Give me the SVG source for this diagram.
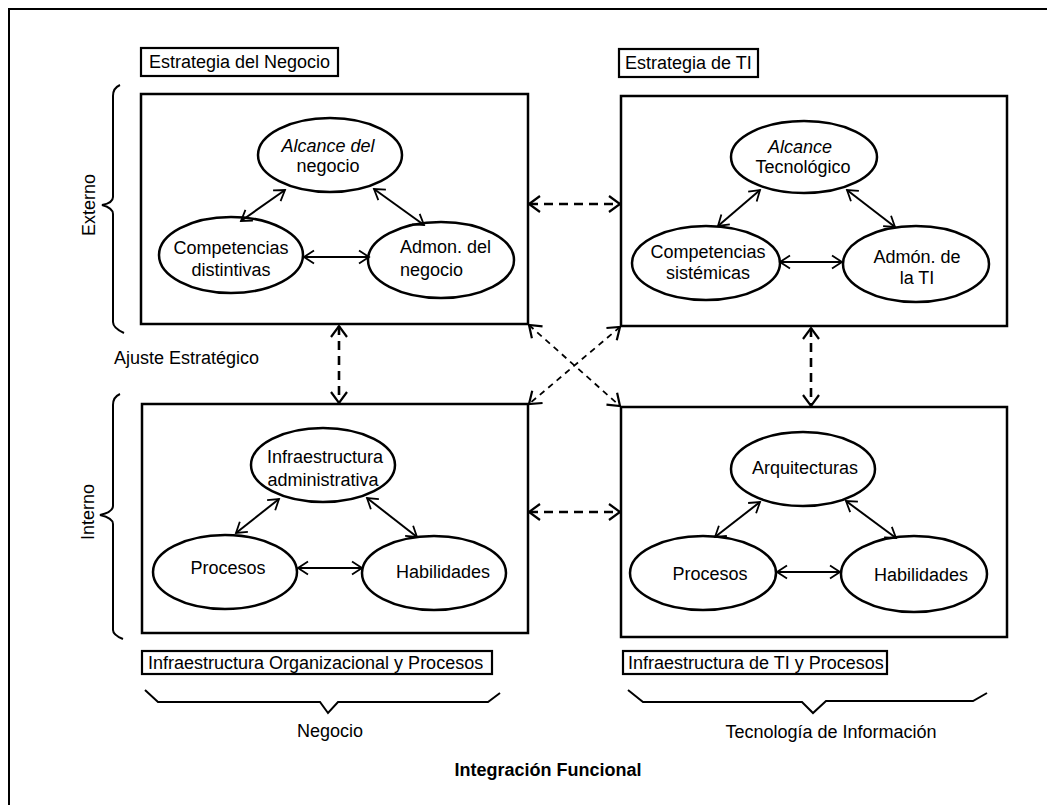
<svg xmlns="http://www.w3.org/2000/svg" width="1047" height="805" viewBox="0 0 1047 805">
<style>
text{font-family:"Liberation Sans",Arial,sans-serif;font-size:18px;fill:#000}
.it{font-style:italic}
.b{font-weight:bold;font-size:18px}
.box{fill:none;stroke:#000;stroke-width:2.5}
.lbl{fill:#fff;stroke:#000;stroke-width:2.2}
.el{fill:#fff;stroke:#000;stroke-width:2.5}
.sol{fill:none;stroke:#000;stroke-width:2;marker-start:url(#a);marker-end:url(#a)}
.dsh{fill:none;stroke:#000;stroke-width:2.6;stroke-dasharray:9 6;marker-start:url(#d);marker-end:url(#d)}
.dia{fill:none;stroke:#000;stroke-width:1.8;stroke-dasharray:6 5;marker-start:url(#d);marker-end:url(#d)}
.br{fill:none;stroke:#000;stroke-width:2}
</style>
<defs>
<marker id="a" markerUnits="userSpaceOnUse" markerWidth="14" markerHeight="16" refX="11" refY="8" orient="auto-start-reverse"><path d="M1,1.5 L11,8 L1,14.5" fill="none" stroke="#000" stroke-width="1.8" stroke-dasharray="none"/></marker>
<marker id="d" markerUnits="userSpaceOnUse" markerWidth="16" markerHeight="20" refX="12" refY="10" orient="auto-start-reverse"><path d="M1,2 L12,10 L1,18" fill="none" stroke="#000" stroke-width="2.2" stroke-dasharray="none"/></marker>
</defs>

<g id="frame">
<path d="M9,805 L9,9 L1047,9" fill="none" stroke="#000" stroke-width="2"/>
</g>

<g id="connectors">
<line class="dsh" x1="529" y1="204" x2="620" y2="204"/>
<line class="dsh" x1="529" y1="512" x2="620" y2="512"/>
<line class="dsh" x1="339" y1="326" x2="339" y2="403"/>
<line class="dsh" x1="811" y1="328" x2="811" y2="406"/>
<line class="dia" x1="529" y1="325" x2="620" y2="406"/>
<line class="dia" x1="620" y1="327" x2="529" y2="404"/>
</g>

<g id="estrategia-negocio">
<rect class="box" x="141" y="94" width="387" height="230"/>
<rect class="lbl" x="141" y="48" width="197" height="28"/>
<text x="149" y="68">Estrategia del Negocio</text>
<g id="n-alcance-negocio">
<ellipse class="el" cx="330" cy="155" rx="72" ry="37"/>
<text class="it" x="328" y="152" text-anchor="middle">Alcance del</text>
<text x="328" y="172" text-anchor="middle">negocio</text>
</g>
<g id="n-competencias-distintivas">
<ellipse class="el" cx="231" cy="255" rx="72" ry="38"/>
<text x="231" y="254" text-anchor="middle">Competencias</text>
<text x="231" y="276" text-anchor="middle">distintivas</text>
</g>
<g id="n-admon-negocio">
<ellipse class="el" cx="441" cy="260" rx="73" ry="38"/>
<text x="400" y="253">Admon. del</text>
<text x="400" y="276">negocio</text>
</g>
<g class="conn">
<line class="sol" x1="285" y1="190" x2="241" y2="221"/>
<line class="sol" x1="374" y1="189" x2="424" y2="225"/>
<line class="sol" x1="304" y1="257" x2="369" y2="257"/>
</g>
</g>

<g id="estrategia-ti">
<rect class="box" x="621" y="96" width="386" height="230"/>
<rect class="lbl" x="619" y="49" width="139" height="28"/>
<text x="625" y="69">Estrategia de TI</text>
<g id="n-alcance-tecnologico">
<ellipse class="el" cx="804" cy="157" rx="73" ry="36"/>
<text class="it" x="800" y="153" text-anchor="middle">Alcance</text>
<text x="803" y="173" text-anchor="middle">Tecnológico</text>
</g>
<g id="n-competencias-sistemicas">
<ellipse class="el" cx="706" cy="263" rx="74" ry="37"/>
<text x="708" y="258" text-anchor="middle">Competencias</text>
<text x="708" y="279" text-anchor="middle">sistémicas</text>
</g>
<g id="n-admon-ti">
<ellipse class="el" cx="916" cy="264" rx="73" ry="38"/>
<text x="917" y="263" text-anchor="middle">Admón. de</text>
<text x="917" y="284" text-anchor="middle">la TI</text>
</g>
<g class="conn">
<line class="sol" x1="760" y1="190" x2="718" y2="226"/>
<line class="sol" x1="847" y1="190" x2="895" y2="227"/>
<line class="sol" x1="780" y1="262" x2="842" y2="262"/>
</g>
</g>

<g id="infra-organizacional">
<rect class="box" x="142" y="404" width="386" height="229"/>
<rect class="lbl" x="142" y="651" width="350" height="23"/>
<text x="148" y="669">Infraestructura Organizacional y Procesos</text>
<g id="n-infra-administrativa">
<ellipse class="el" cx="323" cy="465" rx="72" ry="37"/>
<text x="325" y="463" text-anchor="middle">Infraestructura</text>
<text x="323" y="486" text-anchor="middle">administrativa</text>
</g>
<g id="n-procesos-1">
<ellipse class="el" cx="225" cy="572" rx="72" ry="37"/>
<text x="228" y="574" text-anchor="middle">Procesos</text>
</g>
<g id="n-habilidades-1">
<ellipse class="el" cx="434" cy="573" rx="72" ry="37"/>
<text x="443" y="578" text-anchor="middle">Habilidades</text>
</g>
<g class="conn">
<line class="sol" x1="279" y1="499" x2="236" y2="533"/>
<line class="sol" x1="367" y1="498" x2="417" y2="537"/>
<line class="sol" x1="298" y1="568" x2="362" y2="568"/>
</g>
</g>

<g id="infra-ti">
<rect class="box" x="621" y="407" width="386" height="230"/>
<rect class="lbl" x="623" y="651" width="264" height="23"/>
<text x="628" y="669">Infraestructura de TI y Procesos</text>
<g id="n-arquitecturas">
<ellipse class="el" cx="803" cy="469" rx="72" ry="37"/>
<text x="805" y="474" text-anchor="middle">Arquitecturas</text>
</g>
<g id="n-procesos-2">
<ellipse class="el" cx="703" cy="573" rx="73" ry="37"/>
<text x="710" y="580" text-anchor="middle">Procesos</text>
</g>
<g id="n-habilidades-2">
<ellipse class="el" cx="914" cy="574" rx="73" ry="38"/>
<text x="921" y="581" text-anchor="middle">Habilidades</text>
</g>
<g class="conn">
<line class="sol" x1="760" y1="502" x2="715" y2="537"/>
<line class="sol" x1="846" y1="501" x2="896" y2="538"/>
<line class="sol" x1="777" y1="572" x2="840" y2="572"/>
</g>
</g>

<g id="braces">
<path class="br" d="M120,85 Q113,88 113,96 L113,197 Q113,203 102,205 Q113,208 113,214 L113,322 Q113,328 124,333"/>
<path class="br" d="M120,394 Q113,397 113,405 L113,506 Q113,512 100,515 Q113,518 113,524 L113,630 Q113,635 123,639"/>
<path class="br" d="M145,690 L158,702 L320,702 L328,713 L338,702 L488,702 L500,693"/>
<path class="br" d="M628,690 L643,702 L802,702 L813,713 L826,701 L973,701 L987,693"/>
</g>

<g id="labels">
<text transform="translate(95,205) rotate(-90)" text-anchor="middle">Externo</text>
<text transform="translate(94,512) rotate(-90)" text-anchor="middle">Interno</text>
<text x="114" y="364">Ajuste Estratégico</text>
<text x="330" y="737" text-anchor="middle">Negocio</text>
<text x="831" y="738" text-anchor="middle">Tecnología de Información</text>
<text class="b" x="548" y="776" text-anchor="middle">Integración Funcional</text>
</g>
</svg>
